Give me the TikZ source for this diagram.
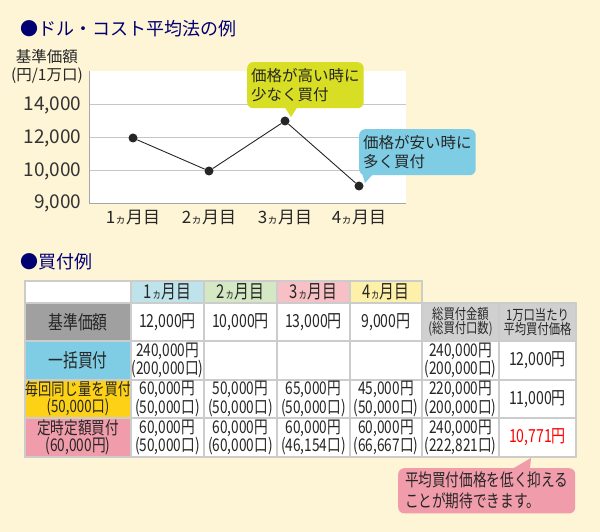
\documentclass[tikz,border=0pt]{standalone}
\usepackage{fontspec}
\setmainfont{Noto Sans CJK JP}
\newfontfamily\cond[FakeStretch=0.78]{Noto Sans CJK JP}
\begin{document}
\begin{tikzpicture}[x=1pt,y=-1pt,
  dot/.style={circle,fill=black!85,inner sep=0pt,minimum size=9pt},
  call/.style={rounded corners=6pt,align=left,font=\fontsize{15.5}{19}\selectfont,text=black!85,inner sep=4pt},
  cell/.style={draw=gray!40,line width=1.3pt,align=center,text=black!85},
  ttl/.style={anchor=west,font=\fontsize{18}{20}\selectfont,text=blue!45!black}]
\definecolor{bg}{HTML}{FEF4D6}
\definecolor{ylw}{HTML}{D8DE24}
\definecolor{cyn}{HTML}{7ECDE4}
\definecolor{hb}{HTML}{BFE3EA}
\definecolor{hg}{HTML}{D4E8C4}
\definecolor{hp}{HTML}{F6C0C5}
\definecolor{hy}{HTML}{FDF0A8}
\definecolor{gr}{HTML}{A0A0A0}
\definecolor{lg}{HTML}{D0D0D0}
\definecolor{org}{HTML}{FCD116}
\definecolor{pk}{HTML}{F19CAB}
\fill[bg] (0,0) rectangle (600,532);
\useasboundingbox (0,0) rectangle (600,532);
% chart
\node[ttl] (t1) at (17,29) {●ドル・コスト平均法の例};
\node[font=\fontsize{15.5}{18}\selectfont,align=center,text=black!85] (yt) at (47,66) {基準価額\\(円/1万口)};
\fill[white] (89,71) rectangle (406,203);
\foreach \y in {105,138,171} \draw[gray!45,line width=1pt] (89,\y) -- (406,\y);
\draw[gray!70,line width=1pt] (89,71) -- (89,203) -- (406,203);
\foreach \v/\y in {14{,}000/105,12{,}000/138,10{,}000/171,9{,}000/203}
  \node[anchor=east,font=\fontsize{19}{21}\selectfont,text=black!80] at (85,\y) {\v};
\foreach \i/\x in {1/133,2/209,3/285,4/359}
  \node[font=\fontsize{17}{19}\selectfont,text=black!85] at (\x,217) {\i{\fontsize{11}{12}\selectfont ヵ}月目};
\node[dot] (p1) at (133,138) {};
\node[dot] (p2) at (209,171) {};
\node[dot] (p3) at (285,121) {};
\node[dot] (p4) at (359,186) {};
\draw[black!85,line width=0.9pt] (p1) -- (p2) -- (p3) -- (p4);
\fill[ylw] (284,106) -- (291,117) -- (298,106) -- cycle;
\node[call,fill=ylw,minimum width=107pt,minimum height=46pt,anchor=north west] (c1) at (247,62) {価格が高い時に\\少なく買付};
\fill[cyn] (362,173) -- (365,183) -- (374,173) -- cycle;
\node[call,fill=cyn,minimum width=107pt,minimum height=46pt,anchor=north west] (c2) at (359,129) {価格が安い時に\\多く買付};
% table
\node[ttl] (t2) at (17,262) {●買付例};
\def\cl(#1,#2,#3,#4,#5,#6,#7,#8){\node[cell,fill=#5,minimum width=#3-#1,minimum height=#4-#2,inner sep=0pt,font=\cond\fontsize{#7}{#7}\selectfont] (#6) at ({(#1+#3)/2},{(#2+#4)/2}) {#8};}
\cl(25,281,131,303,white,h0,17,{})
\cl(131,281,204,303,hb,h1,19,{1{\fontsize{12}{12}\selectfont ヵ}月目})
\cl(204,281,277,303,hg,h2,19,{2{\fontsize{12}{12}\selectfont ヵ}月目})
\cl(277,281,350,303,hp,h3,19,{3{\fontsize{12}{12}\selectfont ヵ}月目})
\cl(350,281,422,303,hy,h4,19,{4{\fontsize{12}{12}\selectfont ヵ}月目})
\cl(422,303,499,341,lg,h5,14.5,{総買付金額\\(総買付口数)})
\cl(499,303,576,341,lg,h6,14.5,{1万口当たり\\平均買付価格})
\cl(25,303,131,341,gr,r1,19,{基準価額})
\cl(131,303,204,341,white,a1,18,{12,000円})
\cl(204,303,277,341,white,a2,18,{10,000円})
\cl(277,303,350,341,white,a3,18,{13,000円})
\cl(350,303,422,341,white,a4,18,{9,000円})
\cl(25,341,131,380,cyn,r2,19,{一括買付})
\cl(131,341,204,380,white,b1,17.5,{240,000円\\(200,000口)})
\cl(204,341,277,380,white,b2,17,{})
\cl(277,341,350,380,white,b3,17,{})
\cl(350,341,422,380,white,b4,17,{})
\cl(422,341,499,380,white,b5,17.5,{240,000円\\(200,000口)})
\cl(499,341,576,380,white,b6,18,{12,000円})
\cl(25,380,131,418,org,r3,17,{毎回同じ量を買付\\(50,000口)})
\cl(131,380,204,418,white,c1x,17.5,{60,000円\\(50,000口)})
\cl(204,380,277,418,white,c2x,17.5,{50,000円\\(50,000口)})
\cl(277,380,350,418,white,c3x,17.5,{65,000円\\(50,000口)})
\cl(350,380,422,418,white,c4x,17.5,{45,000円\\(50,000口)})
\cl(422,380,499,418,white,c5x,17.5,{220,000円\\(200,000口)})
\cl(499,380,576,418,white,c6x,18,{11,000円})
\cl(25,418,131,457,pk,r4,17.5,{定時定額買付\\(60,000円)})
\cl(131,418,204,457,white,d1,17.5,{60,000円\\(50,000口)})
\cl(204,418,277,457,white,d2,17.5,{60,000円\\(60,000口)})
\cl(277,418,350,457,white,d3,17.5,{60,000円\\(46,154口)})
\cl(350,418,422,457,white,d4,17.5,{60,000円\\(66,667口)})
\cl(422,418,499,457,white,d5,17.5,{240,000円\\(222,821口)})
\cl(499,418,576,457,white,d6,18,{\color{red}10,771円})
\fill[pk] (512,469) -- (531,458) -- (530,469) -- cycle;
\node[call,fill=pk,minimum width=177pt,minimum height=45pt,anchor=north west,font=\cond\fontsize{17.5}{21}\selectfont] (c3) at (398,468) {平均買付価格を低く抑える\\ことが期待できます。};
\end{tikzpicture}
\end{document}
